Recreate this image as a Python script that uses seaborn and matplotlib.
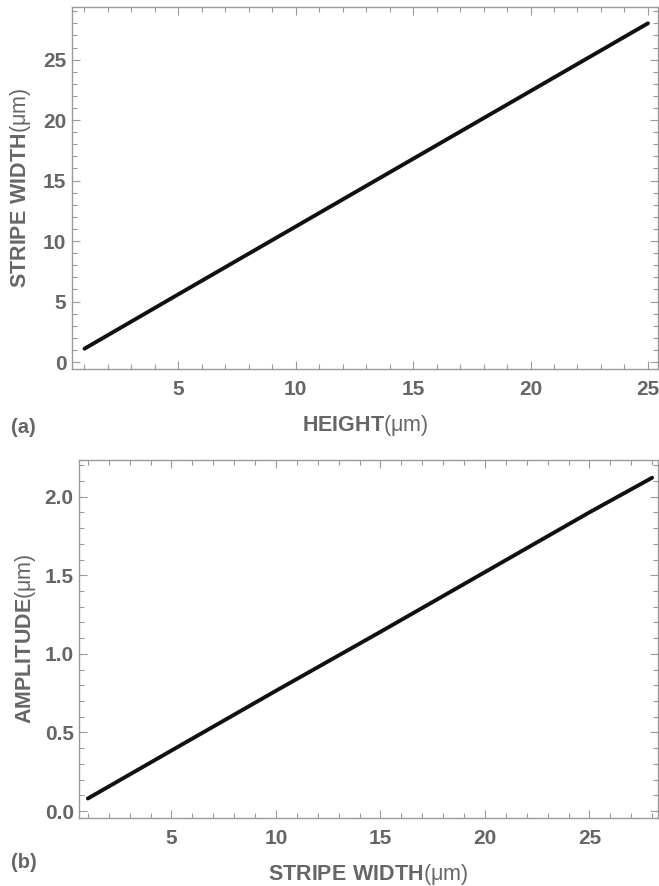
import matplotlib
matplotlib.use("Agg")
import matplotlib.pyplot as plt
import seaborn as sns
import pandas as pd
from matplotlib.ticker import MultipleLocator

# Data
height_um = [1, 5, 10, 15, 20, 25]
stripe_width_a = [1.1, 5.6, 11.2, 16.8, 22.4, 28.0]

stripe_width_b = [1, 5, 10, 15, 20, 25, 28]
amplitude_um = [0.08, 0.385, 0.765, 1.14, 1.52, 1.90, 2.12]

sns.set_theme(style="ticks")
plt.rcParams['font.family'] = ['Liberation Sans', 'DejaVu Sans']
plt.rcParams['mathtext.fontset'] = 'custom'
plt.rcParams['mathtext.rm'] = 'Liberation Sans'
plt.rcParams['mathtext.bf'] = 'Liberation Sans:bold'

TEXT = '#666666'
SPINE = '#9a9a9a'

fig = plt.figure(figsize=(6.59, 8.86), dpi=100)
ax1 = fig.add_axes([0.1093, 0.5835, 0.8892, 0.4086])
ax2 = fig.add_axes([0.1203, 0.0764, 0.8781, 0.4044])

df_a = pd.DataFrame({'h': height_um, 'w': stripe_width_a})
df_b = pd.DataFrame({'w': stripe_width_b, 'a': amplitude_um})

sns.lineplot(data=df_a, x='h', y='w', ax=ax1, color='#111111', linewidth=2.8)
sns.lineplot(data=df_b, x='w', y='a', ax=ax2, color='#111111', linewidth=2.8)

ax1.set_xlim(0.47, 25.43)
ax1.set_ylim(-0.58, 29.35)
ax1.xaxis.set_major_locator(MultipleLocator(5))
ax1.xaxis.set_minor_locator(MultipleLocator(1))
ax1.yaxis.set_major_locator(MultipleLocator(5))
ax1.yaxis.set_minor_locator(MultipleLocator(1))
ax1.set_xticks([5, 10, 15, 20, 25])

ax2.set_xlim(0.59, 28.28)
ax2.set_ylim(-0.046, 2.233)
ax2.xaxis.set_major_locator(MultipleLocator(5))
ax2.xaxis.set_minor_locator(MultipleLocator(1))
ax2.yaxis.set_major_locator(MultipleLocator(0.5))
ax2.yaxis.set_minor_locator(MultipleLocator(0.1))
ax2.set_xticks([5, 10, 15, 20, 25])
ax2.yaxis.set_major_formatter(matplotlib.ticker.FormatStrFormatter('%.1f'))

for ax in (ax1, ax2):
    for s in ax.spines.values():
        s.set_visible(True)
        s.set_color(SPINE)
        s.set_linewidth(1.0)
    ax.tick_params(which='both', direction='in', top=True, right=True,
                   color=SPINE, width=0.8)
    ax.tick_params(which='major', length=6)
    ax.tick_params(which='minor', length=3.5)
    ax.tick_params(axis='x', which='major', pad=8, labelsize=15, labelcolor=TEXT)
    ax.tick_params(axis='y', which='major', pad=4, labelsize=15, labelcolor=TEXT)
    for lab in ax.get_xticklabels() + ax.get_yticklabels():
        lab.set_fontweight('bold')
    ax.grid(False)

ax1.set_xlabel(r'$\mathbf{HEIGHT}$(μm)', fontsize=15.5, color=TEXT, labelpad=10)
ax1.set_ylabel(r'$\mathbf{STRIPE\ WIDTH}$(μm)', fontsize=15.5, color=TEXT, labelpad=7)
ax2.set_xlabel(r'$\mathbf{STRIPE\ WIDTH}$(μm)', fontsize=15.5, color=TEXT, labelpad=10)
ax2.set_ylabel(r'$\mathbf{AMPLITUDE}$(μm)', fontsize=15.5, color=TEXT, labelpad=5)

fig.text(0.016, 0.518, '(a)', fontsize=14.5, fontweight='bold', color=TEXT, va='center')
fig.text(0.016, 0.027, '(b)', fontsize=14.5, fontweight='bold', color=TEXT, va='center')

fig.savefig('out.png', dpi=100)
